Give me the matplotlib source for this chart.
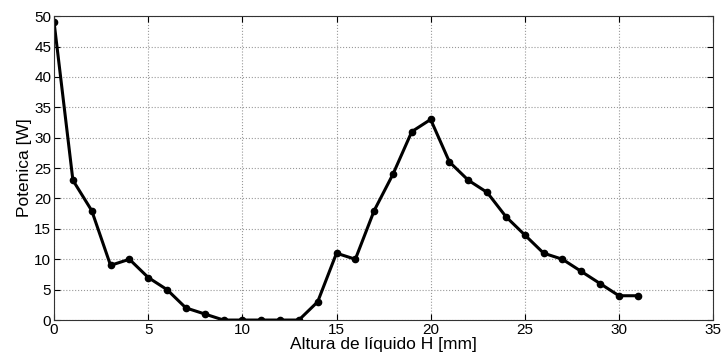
import matplotlib
matplotlib.use("Agg")
import matplotlib.pyplot as plt

# Dados
altura = list(range(0, 32))
potencia = [49, 23, 18, 9, 10, 7, 5, 2, 1, 0, 0, 0, 0, 0, 3, 11,
            10, 18, 24, 31, 33, 26, 23, 21, 17, 14, 11, 10, 8, 6, 4, 4]

plt.rcParams['font.family'] = ['Liberation Sans', 'DejaVu Sans']

fig = plt.figure(figsize=(7.21, 3.58), dpi=100)
ax = fig.add_axes([0.075, 0.106, 0.914, 0.849])

ax.plot(altura, potencia, '-o', color='black', linewidth=2.2, markersize=4.5)

ax.set_xlim(0, 35)
ax.set_ylim(0, 50)
ax.set_xticks(range(0, 36, 5))
ax.set_yticks(range(0, 51, 5))
ax.grid(True, linestyle=':', color='#999999', linewidth=0.8)
ax.tick_params(direction='in', top=True, right=True, labelsize=11, length=4, pad=2)
for s in ax.spines.values():
    s.set_linewidth(0.8)
    s.set_color('#333333')

ax.set_xlabel('Altura de líquido H [mm]', fontsize=12.5, labelpad=0)
ax.set_ylabel('Potenica [W]', fontsize=12.5, labelpad=2)

fig.savefig('out.png', dpi=100)
